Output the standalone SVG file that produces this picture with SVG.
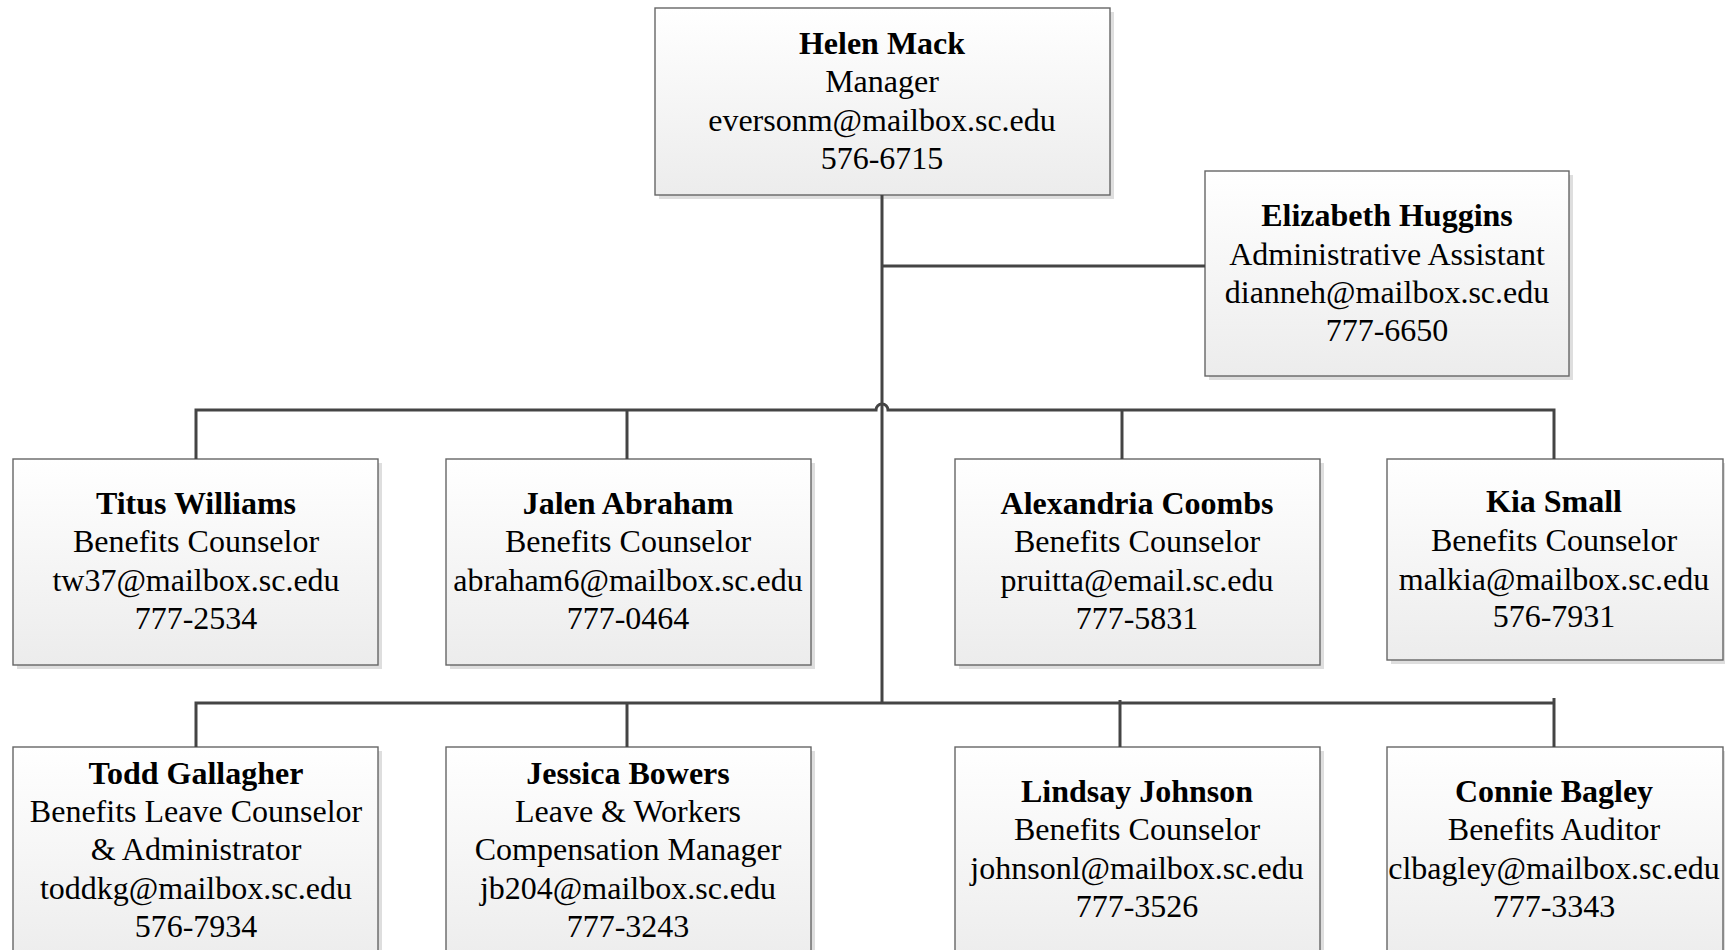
<svg xmlns="http://www.w3.org/2000/svg" width="1725" height="950" viewBox="0 0 1725 950">
<defs>
<linearGradient id="g" x1="0" y1="0" x2="0" y2="1">
<stop offset="0" stop-color="#ffffff"/>
<stop offset="1" stop-color="#ececec"/>
</linearGradient>
</defs>
<style>
.sh{fill:#dedede}
.bx{fill:url(#g);stroke:#666666;stroke-width:1.4}
.c{fill:none;stroke:#444444;stroke-width:3}
text{font-family:"Liberation Serif","Times New Roman",serif;font-size:32px;fill:#000;text-anchor:middle}
.n{font-weight:bold}
</style>
<rect width="1725" height="950" fill="#ffffff"/>
<g id="helen">
<rect class="sh" x="659" y="12" width="455" height="187"/>
<rect class="bx" x="655" y="8" width="455" height="187"/>
<text x="882" y="54" class="n">Helen Mack</text>
<text x="882" y="92">Manager</text>
<text x="882" y="131">eversonm@mailbox.sc.edu</text>
<text x="882" y="169">576-6715</text>
</g>
<g id="elizabeth">
<rect class="sh" x="1209" y="175" width="364" height="205"/>
<rect class="bx" x="1205" y="171" width="364" height="205"/>
<text x="1387" y="226" class="n">Elizabeth Huggins</text>
<text x="1387" y="265">Administrative Assistant</text>
<text x="1387" y="303">dianneh@mailbox.sc.edu</text>
<text x="1387" y="341">777-6650</text>
</g>
<g id="titus">
<rect class="sh" x="17" y="463" width="365" height="206"/>
<rect class="bx" x="13" y="459" width="365" height="206"/>
<text x="196" y="514" class="n">Titus Williams</text>
<text x="196" y="552">Benefits Counselor</text>
<text x="196" y="591">tw37@mailbox.sc.edu</text>
<text x="196" y="629">777-2534</text>
</g>
<g id="jalen">
<rect class="sh" x="450" y="463" width="365" height="206"/>
<rect class="bx" x="446" y="459" width="365" height="206"/>
<text x="628" y="514" class="n">Jalen Abraham</text>
<text x="628" y="552">Benefits Counselor</text>
<text x="628" y="591">abraham6@mailbox.sc.edu</text>
<text x="628" y="629">777-0464</text>
</g>
<g id="alexandria">
<rect class="sh" x="959" y="463" width="365" height="206"/>
<rect class="bx" x="955" y="459" width="365" height="206"/>
<text x="1137" y="514" class="n">Alexandria Coombs</text>
<text x="1137" y="552">Benefits Counselor</text>
<text x="1137" y="591">pruitta@email.sc.edu</text>
<text x="1137" y="629">777-5831</text>
</g>
<g id="kia">
<rect class="sh" x="1391" y="463" width="336" height="201"/>
<rect class="bx" x="1387" y="459" width="336" height="201"/>
<text x="1554" y="512" class="n">Kia Small</text>
<text x="1554" y="551">Benefits Counselor</text>
<text x="1554" y="590">malkia@mailbox.sc.edu</text>
<text x="1554" y="627">576-7931</text>
</g>
<g id="todd">
<rect class="sh" x="17" y="751" width="365" height="220"/>
<rect class="bx" x="13" y="747" width="365" height="220"/>
<text x="196" y="784" class="n">Todd Gallagher</text>
<text x="196" y="822">Benefits Leave Counselor</text>
<text x="196" y="860">&amp; Administrator</text>
<text x="196" y="899">toddkg@mailbox.sc.edu</text>
<text x="196" y="937">576-7934</text>
</g>
<g id="jessica">
<rect class="sh" x="450" y="751" width="365" height="220"/>
<rect class="bx" x="446" y="747" width="365" height="220"/>
<text x="628" y="784" class="n">Jessica Bowers</text>
<text x="628" y="822">Leave &amp; Workers</text>
<text x="628" y="860">Compensation Manager</text>
<text x="628" y="899">jb204@mailbox.sc.edu</text>
<text x="628" y="937">777-3243</text>
</g>
<g id="lindsay">
<rect class="sh" x="959" y="751" width="365" height="220"/>
<rect class="bx" x="955" y="747" width="365" height="220"/>
<text x="1137" y="802" class="n">Lindsay Johnson</text>
<text x="1137" y="840">Benefits Counselor</text>
<text x="1137" y="879">johnsonl@mailbox.sc.edu</text>
<text x="1137" y="917">777-3526</text>
</g>
<g id="connie">
<rect class="sh" x="1391" y="751" width="336" height="220"/>
<rect class="bx" x="1387" y="747" width="336" height="220"/>
<text x="1554" y="802" class="n">Connie Bagley</text>
<text x="1554" y="840">Benefits Auditor</text>
<text x="1554" y="879">clbagley@mailbox.sc.edu</text>
<text x="1554" y="917">777-3343</text>
</g>
<g id="connectors">
<path class="c" d="M882 195 V703"/>
<path class="c" d="M882 266 H1205"/>
<path class="c" d="M196 459 V410 H876 A6 6 0 0 1 888 410 H1554 V459"/>
<path class="c" d="M627 410 V459"/>
<path class="c" d="M1122 410 V459"/>
<path class="c" d="M196 747 V703 H1554"/>
<path class="c" d="M1554 698 V747"/>
<path class="c" d="M627 703 V747"/>
<path class="c" d="M1120 700 V747"/>
</g>
</svg>
